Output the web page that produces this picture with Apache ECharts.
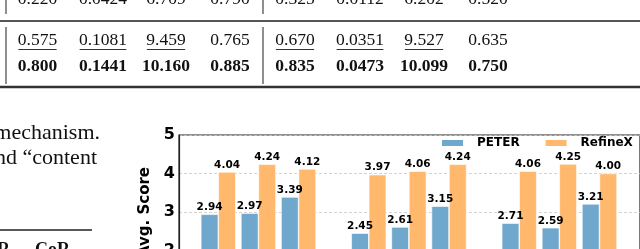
<!DOCTYPE html>
<html><head><meta charset="utf-8">
<script src="https://cdn.jsdelivr.net/npm/echarts@6/dist/echarts.min.js"></script>
<style>html,body{margin:0;padding:0;overflow:hidden;background:#fff;width:640px;height:249px}#c{width:640px;height:400px}</style>
</head><body><div id="c"></div>
<script>
// ---- data ----
const seriesNames = ['PETER', 'RefineX'];
const peter   = [2.94, 2.97, 3.39, 2.45, 2.61, 3.15, 2.71, 2.59, 3.21];
const refinex = [4.04, 4.24, 4.12, 3.97, 4.06, 4.24, 4.06, 4.25, 4.00];
const barsPerGroup = 3;
const yTickLabels = ['1', '2', '3', '4', '5'];
const tableRow1 = ['0.220','0.0424','6.709','0.790','0.325','0.0112','6.202','0.520'];
const tableRow2 = ['0.575','0.1081','9.459','0.765','0.670','0.0351','9.527','0.635'];
const tableRow3 = ['0.800','0.1441','10.160','0.885','0.835','0.0473','10.099','0.750'];
const row2Underlined = [true, true, true, false, true, true, true, false];
const paraLines = ['mechanism.', 'and \u201ccontent'];
const headerBits = ['R', 'CoR'];

// ---- layout ----
const groupStep = 3.75;
const pos = (i) => Math.floor(i / barsPerGroup) * groupStep + (i % barsPerGroup);
const colX = [37.5, 103, 166, 230, 295, 360, 424, 488];
const serif = '"Liberation Serif", "Times New Roman", serif';
const sans = '"DejaVu Sans", sans-serif';
const mctx = document.createElement('canvas').getContext('2d');
mctx.font = '17px ' + serif;

const graphic = [];
function txt(t, x, y, size, weight, align, family) {
  graphic.push({type: 'text', silent: true, style: {text: t, x: x, y: y,
    font: (weight || 'normal') + ' ' + size + 'px ' + (family || serif),
    fill: '#111', align: align || 'center', verticalAlign: 'middle'}});
}
function line(x1, y1, x2, y2, w, c) {
  graphic.push({type: 'line', silent: true, shape: {x1, y1, x2, y2}, style: {stroke: c || '#333', lineWidth: w}});
}
tableRow1.forEach((t, i) => txt(t, colX[i], -0.5, 17.5));
tableRow2.forEach((t, i) => {
  txt(t, colX[i], 40, 17.5);
  if (row2Underlined[i]) {
    const w = mctx.measureText(t).width;
    line(colX[i] - w / 2, 49.5, colX[i] + w / 2, 49.5, 1, '#333');
  }
});
tableRow3.forEach((t, i) => txt(t, colX[i], 66.5, 17.5, 'bold'));
line(0, 21, 640, 21, 1.8, '#555');
line(0, 87, 640, 87, 2.4, '#333');
[6, 263].forEach(x => { line(x, 0, x, 14, 1.2, '#444'); line(x, 27, x, 84, 1.2, '#444'); });
txt(paraLines[0], 100, 133.5, 22, 'normal', 'right');
txt(paraLines[1], 97, 158, 22, 'normal', 'right');
line(0, 230, 92, 230, 1.3, '#222');
txt(headerBits[0], 10, 250, 18, 'bold', 'right');
txt(headerBits[1], 35, 250, 18, 'bold', 'left');

const chart = echarts.init(document.getElementById('c'), null, {renderer: 'canvas'});
const labelCfg = {show: true, position: 'top', distance: 1.5, color: '#000', fontFamily: sans,
  fontWeight: 'bold', fontSize: 10.5, formatter: p => p.value[1].toFixed(2)};
chart.setOption({
  animation: false,
  grid: {left: 179, top: 135, width: 462, height: 154, show: true, borderColor: '#222', borderWidth: 1.2, backgroundColor: 'transparent'},
  legend: {left: 440, top: 137, padding: 0, width: 300, orient: 'horizontal', itemWidth: 23, itemHeight: 8, itemGap: 24, icon: 'rect',
    textStyle: {fontFamily: sans, fontWeight: 'bold', fontSize: 12, color: '#000', padding: [0, 0, 0, 8]},
    data: seriesNames},
  xAxis: {type: 'value', min: -0.98, max: 10.51, show: false},
  yAxis: {type: 'value', min: 1, max: 5, interval: 1,
    name: 'Avg. Score', nameLocation: 'middle', nameGap: 15, nameRotate: 90,
    nameTextStyle: {fontFamily: sans, fontWeight: 'bold', fontSize: 15, color: '#000'},
    axisLine: {show: true, onZero: false, lineStyle: {color: '#222', width: 1.2}},
    axisTick: {show: false},
    axisLabel: {margin: 4, fontFamily: sans, fontWeight: 'bold', fontSize: 16, color: '#000',
      formatter: v => yTickLabels[Math.round(v) - 1]},
    splitLine: {show: true, lineStyle: {color: '#c8c8c8', type: [3, 2], width: 0.8}}},
  series: [
    {name: seriesNames[0], type: 'bar', barWidth: 17.5, barGap: '0%',
     itemStyle: {color: '#6fa8cc', borderColor: '#fff', borderWidth: 0.6},
     label: labelCfg, data: peter.map((v, i) => [pos(i), v])},
    {name: seriesNames[1], type: 'bar', barWidth: 17.5, barGap: '0%',
     itemStyle: {color: '#ffb86c', borderColor: '#fff', borderWidth: 0.6},
     label: labelCfg, data: refinex.map((v, i) => [pos(i), v])}
  ],
  graphic: graphic
});
</script></body></html>
